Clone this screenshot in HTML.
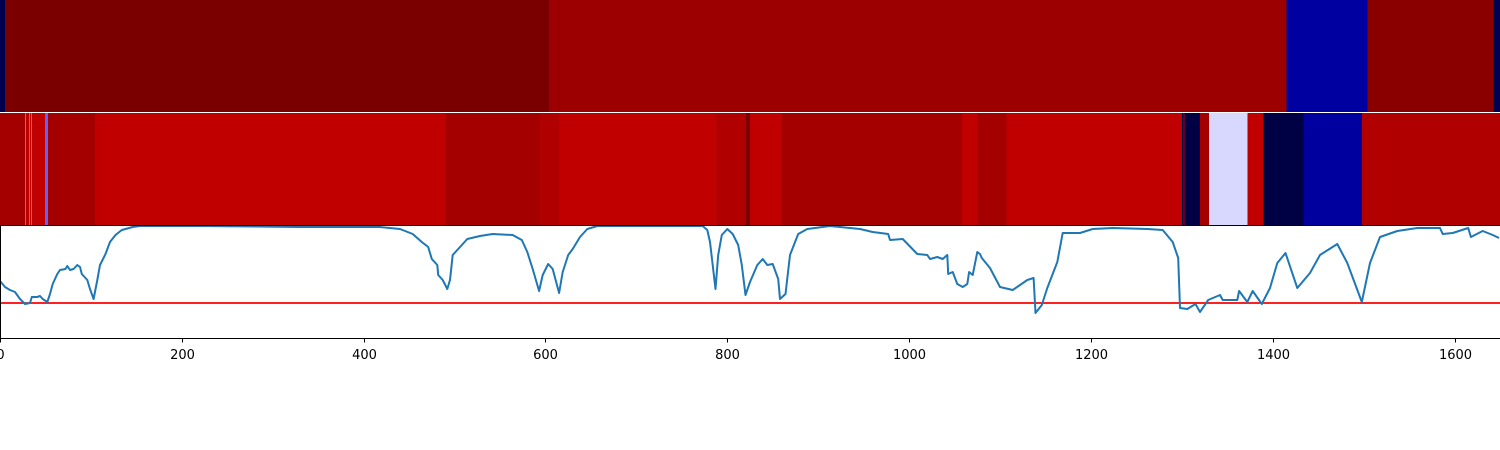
<!DOCTYPE html>
<html><head><meta charset="utf-8"><style>
html,body{margin:0;padding:0;background:#fff;width:1500px;height:450px;overflow:hidden}
svg{display:block;font-family:"DejaVu Sans","Liberation Sans",sans-serif}
</style></head><body>
<svg id="chart" width="1500" height="450" viewBox="0 0 1500 450">
<g id="row1"></g>
<g id="row2"></g>
<g id="linepanel"></g>
<g id="xaxis"></g>
</svg>
<script>
const xTicks=[0,200,400,600,800,1000,1200,1400,1600];
const row1Start=[0,5.5,604,1415,1504,1643];
const row1End=[5.5,604,1415,1504,1643,1650];
const row1Color=['#000050','#7a0000','#9c0000','#0000a0','#8a0000','#000050'];
const row2Start=[0,27.5,28.6,31.9,33,34,35,49.5,52.8,104.5,490.6,594,615,787.6,820.6,825,860,1058,1075,1107,1300,1302,1303,1320,1330,1372,1390,1434,1498];
const row2End=[27.5,28.6,31.9,33,34,35,49.5,52.8,104.5,490.6,594,615,787.6,820.6,825,860,1058,1075,1107,1300,1302,1303,1320,1330,1372,1390,1434,1498,1650];
const row2Color=['#a50000','#7070ff','#c00000','#7070ff','#c00000','#7070ff','#c00000','#6060ff','#a50000','#c00000','#a50000','#b00000','#c00000','#b00000','#7a0000','#c00000','#a50000','#c00000','#a50000','#c00000','#000045','#c00000','#000045','#a50000','#d8d8ff','#c00000','#000045','#00009f','#b00000'];
const lineX=[0,5.5,11,16.5,22,27.5,33,35,41,44,47,52,55,58,63,66,72,74,77,81,85,88,90,96,99,103,107,110,116,121,127,134,146,154,220,330,418,440,454,464,471,475,481,482,487,492,495,498,504,514,528,542,564,574,580,586,593,597,603,608,615,619,625,630,638,646,657,748,773,778,781,784,787,790,794,800,806,812,816,820,825,833,839,844,850,856,858,864,869,878,888,913,946,960,977,979,993,1009,1020,1023,1031,1037,1042,1043,1048,1053,1059,1064,1066,1070,1075,1078,1080,1089,1100,1114,1130,1137,1139,1146,1152,1163,1169,1188,1202,1224,1262,1279,1290,1296,1298,1306,1315,1320,1329,1342,1345,1361,1363,1372,1378,1388,1397,1405,1414,1427,1441,1452,1471,1482,1498,1507,1518,1537,1559,1584,1587,1598,1615,1618,1631,1642,1649];
const lineY=[57,51,48,46,39,34,35,41,41,42,39,36,44,54,64,68,69,72,68,69,73,71,64,58,49,39,58,73,84,96,103,108,111,112,112,111,111,109,104,96,91,79,73,63,58,49,58,83,89,99,102,104,103,98,86,69,47,63,74,69,45,66,83,89,101,109,112,112,112,108,96,73,49,83,103,109,104,93,73,43,56,73,79,73,74,59,39,44,83,104,109,112,109,106,104,98,99,84,83,79,81,79,83,64,66,54,51,54,66,63,86,84,80,70,51,48,58,60,25,33,50,76,105,105,109,110,109,108,96,80,30,29,34,26,38,43,38,38,47,36,47,34,50,75,85,50,65,83,94,75,36,75,101,107,110,110,104,105,110,101,107,103,100];
const threshold=[35];
const NS='http://www.w3.org/2000/svg';
const X0=0,X1=1650,PX0=0,PX1=1500;
function xs(v){return PX0+(v-X0)/(X1-X0)*(PX1-PX0);}
function ys(v){return 338-(v/112)*112;}
function mk(t,a,p){const e=document.createElementNS(NS,t);for(const k in a)e.setAttribute(k,a[k]);p.appendChild(e);return e;}
function drawRow(gid,st,en,col,y,h,nm){
  const g=document.getElementById(gid);
  for(let i=0;i<st.length;i++){
    const r=mk('rect',{x:xs(st[i]),y:y,width:Math.max(0.6,xs(en[i])-xs(st[i])),height:h,fill:col[i],'shape-rendering':'crispEdges'},g);
    
    
  }
}
drawRow('row1',row1Start,row1End,row1Color,0,112,'row1');
drawRow('row2',row2Start,row2End,row2Color,113,112,'row2');
const lp=document.getElementById('linepanel');
const thr=mk('line',{x1:xs(X0),x2:xs(X1),y1:ys(threshold[0]),y2:ys(threshold[0]),stroke:'#ff0000','stroke-width':1.8},lp);


let d='';
for(let i=0;i<lineX.length;i++){d+=(i?'L':'M')+xs(lineX[i]).toFixed(1)+','+ys(lineY[i]).toFixed(1);}
const pl=mk('path',{d:d,fill:'none',stroke:'#1f77b4','stroke-width':2,'stroke-linejoin':'round'},lp);


const sp1=mk('line',{x1:0,x2:1500,y1:225.5,y2:225.5,stroke:'#000','stroke-width':1},lp);


const sp2=mk('line',{x1:0.5,x2:0.5,y1:225,y2:338,stroke:'#000','stroke-width':1},lp);


const ax=document.getElementById('xaxis');
const base=mk('line',{x1:0,x2:1500,y1:338.5,y2:338.5,stroke:'#000','stroke-width':1},ax);


for(let i=0;i<xTicks.length;i++){
  const x=Math.round(xs(xTicks[i]))+0.5;
  const t=mk('line',{x1:x,x2:x,y1:338,y2:342.5,stroke:'#000','stroke-width':1},ax);
  
  
  const l=mk('text',{x:x,y:359,'text-anchor':'middle','font-size':'13px',fill:'#000'},ax);
  l.textContent=xTicks[i];
  
  
}
</script>
</body></html>
